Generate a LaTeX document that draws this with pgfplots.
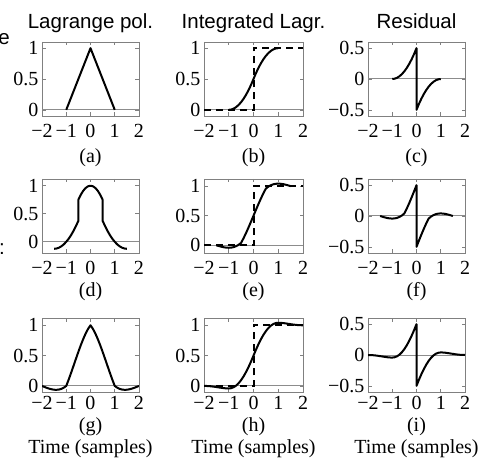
\documentclass[border=0pt]{standalone}
\usepackage{fontspec}
\setmainfont{Liberation Serif}
\newfontfamily\titlefont{Liberation Sans}
\usepackage{pgfplots}
\pgfplotsset{compat=1.18}

\definecolor{boxgray}{gray}{0.50}
\definecolor{zerogray}{gray}{0.55}

\newcommand{\panelfont}{\fontsize{20}{24}\selectfont}

\pgfplotsset{
  panel/.style={
    scale only axis, width=97pt, height=74pt, anchor=south west,
    xmin=-2, xmax=2,
    xtick={-2,-1,0,1,2}, xticklabels={−2,−1,0,1,2},
    axis line style={boxgray, line width=0.8pt},
    tick style={boxgray, line width=0.6pt},
    tick align=inside, major tick length=3.5pt,
    ticklabel style={font=\panelfont, text=black},
  },
  upper/.style={xticklabel style={yshift=-5pt}},
  lower/.style={xticklabel style={yshift=-0.5pt}},
  leftcol/.style={panel, ytick={0,0.5,1}, yticklabels={0,0.5,1}},
  rightcol/.style={panel, ymin=-0.6, ymax=0.6, ytick={-0.5,0,0.5}, yticklabels={−0.5,0,0.5}},
  curve/.style={black, line width=2pt, line join=round},
  zeroline/.style={zerogray, line width=1pt},
  stepline/.style={black, line width=2pt, dash pattern=on 7pt off 5pt},
}

\begin{document}
\begin{tikzpicture}[x=1pt, y=1pt]
\useasboundingbox (0,0) rectangle (484,466);

% ---------------- row 1: linear interpolation ----------------
\begin{axis}[leftcol, upper, at={(42pt,350pt)}, ymin=-0.1, ymax=1.1]
  \addplot[zeroline] coordinates {(-2,0) (2,0)};
  \addplot[curve] coordinates {(-1,0) (0,1) (1,0)};
\end{axis}

\begin{axis}[leftcol, upper, at={(204pt,350pt)}, width=99pt, ymin=-0.1, ymax=1.1]
  \addplot[zeroline] coordinates {(-2,0) (2,0)};
  \addplot[curve] coordinates {
    (-1,0) (-0.9,0.005) (-0.8,0.02) (-0.7,0.045) (-0.6,0.08) (-0.5,0.125)
    (-0.4,0.18) (-0.3,0.245) (-0.2,0.32) (-0.1,0.405) (0,0.5)
    (0.1,0.595) (0.2,0.68) (0.3,0.755) (0.4,0.82) (0.5,0.875)
    (0.6,0.92) (0.7,0.955) (0.8,0.98) (0.9,0.995) (1,1)};
  \addplot[stepline] coordinates {(-2,0) (0,0) (0,1) (2,1)};
\end{axis}

\begin{axis}[rightcol, upper, at={(368pt,350pt)}]
  \addplot[zeroline] coordinates {(-2,0) (2,0)};
  \addplot[curve] coordinates {
    (-1,0) (-0.9,0.005) (-0.8,0.02) (-0.7,0.045) (-0.6,0.08) (-0.5,0.125)
    (-0.4,0.18) (-0.3,0.245) (-0.2,0.32) (-0.1,0.405) (0,0.5)
    (0,-0.5) (0.1,-0.405) (0.2,-0.32) (0.3,-0.245) (0.4,-0.18) (0.5,-0.125)
    (0.6,-0.08) (0.7,-0.045) (0.8,-0.02) (0.9,-0.005) (1,0)};
\end{axis}

% ---------------- row 2: quadratic (3-point) Lagrange ----------------
\begin{axis}[leftcol, upper, at={(42pt,213pt)}, ymin=-0.2, ymax=1.12]
  \addplot[zeroline] coordinates {(-2,0) (2,0)};
  \addplot[curve] coordinates {
    (-1.5,-0.125) (-1.4,-0.12) (-1.3,-0.105) (-1.2,-0.08) (-1.1,-0.045) (-1,0)
    (-0.9,0.055) (-0.8,0.12) (-0.7,0.195) (-0.6,0.28) (-0.5,0.375)
    (-0.5,0.75) (-0.4,0.84) (-0.3,0.91) (-0.2,0.96) (-0.1,0.99) (0,1)
    (0.1,0.99) (0.2,0.96) (0.3,0.91) (0.4,0.84) (0.5,0.75)
    (0.5,0.375) (0.6,0.28) (0.7,0.195) (0.8,0.12) (0.9,0.055) (1,0)
    (1.1,-0.045) (1.2,-0.08) (1.3,-0.105) (1.4,-0.12) (1.5,-0.125)};
\end{axis}

\begin{axis}[leftcol, upper, at={(204pt,213pt)}, width=99pt, ymin=-0.13, ymax=1.12]
  \addplot[zeroline] coordinates {(-2,0) (2,0)};
  \addplot[curve] coordinates {
    (-1.5,0) (-1.4,-0.0123) (-1.3,-0.0237) (-1.2,-0.033) (-1.1,-0.0393) (-1,-0.0417)
    (-0.9,-0.039) (-0.8,-0.0303) (-0.7,-0.0147) (-0.6,0.009) (-0.5,0.0417)
    (-0.4,0.1213) (-0.3,0.209) (-0.2,0.3027) (-0.1,0.4003) (0,0.5)
    (0.1,0.5997) (0.2,0.6973) (0.3,0.791) (0.4,0.8787) (0.5,0.9583)
    (0.6,0.991) (0.7,1.0147) (0.8,1.0303) (0.9,1.039) (1,1.0417)
    (1.1,1.0393) (1.2,1.033) (1.3,1.0237) (1.4,1.0123) (1.5,1)};
  \addplot[stepline] coordinates {(-2,0) (0,0) (0,1) (2,1)};
\end{axis}

\begin{axis}[rightcol, upper, at={(368pt,213pt)}]
  \addplot[zeroline] coordinates {(-2,0) (2,0)};
  \addplot[curve] coordinates {
    (-1.5,0) (-1.4,-0.0123) (-1.3,-0.0237) (-1.2,-0.033) (-1.1,-0.0393) (-1,-0.0417)
    (-0.9,-0.039) (-0.8,-0.0303) (-0.7,-0.0147) (-0.6,0.009) (-0.5,0.0417)
    (-0.4,0.1213) (-0.3,0.209) (-0.2,0.3027) (-0.1,0.4003) (0,0.5)
    (0,-0.5) (0.1,-0.4003) (0.2,-0.3027) (0.3,-0.209) (0.4,-0.1213) (0.5,-0.0417)
    (0.6,-0.009) (0.7,0.0147) (0.8,0.0303) (0.9,0.039) (1,0.0417)
    (1.1,0.0393) (1.2,0.033) (1.3,0.0237) (1.4,0.0123) (1.5,0)};
\end{axis}

% ---------------- row 3: cubic (4-point) Lagrange ----------------
\begin{axis}[leftcol, lower, at={(42pt,74pt)}, ymin=-0.1, ymax=1.12]
  \addplot[zeroline] coordinates {(-2,0) (2,0)};
  \addplot[curve] coordinates {
    (-2,0) (-1.9,-0.0165) (-1.8,-0.032) (-1.7,-0.0455) (-1.6,-0.056) (-1.5,-0.0625)
    (-1.4,-0.064) (-1.3,-0.0595) (-1.2,-0.048) (-1.1,-0.0285) (-1,0)
    (-0.9,0.1045) (-0.8,0.216) (-0.7,0.3315) (-0.6,0.448) (-0.5,0.5625)
    (-0.4,0.672) (-0.3,0.7735) (-0.2,0.864) (-0.1,0.9405) (0,1)
    (0.1,0.9405) (0.2,0.864) (0.3,0.7735) (0.4,0.672) (0.5,0.5625)
    (0.6,0.448) (0.7,0.3315) (0.8,0.216) (0.9,0.1045) (1,0)
    (1.1,-0.0285) (1.2,-0.048) (1.3,-0.0595) (1.4,-0.064) (1.5,-0.0625)
    (1.6,-0.056) (1.7,-0.0455) (1.8,-0.032) (1.9,-0.0165) (2,0)};
\end{axis}

\begin{axis}[leftcol, lower, at={(204pt,74pt)}, width=99pt, ymin=-0.1, ymax=1.12]
  \addplot[zeroline] coordinates {(-2,0) (2,0)};
  \addplot[curve] coordinates {
    (-2,0) (-1.9,-0.0008) (-1.8,-0.0033) (-1.7,-0.0072) (-1.6,-0.0123) (-1.5,-0.0182)
    (-1.4,-0.0246) (-1.3,-0.0308) (-1.2,-0.0363) (-1.1,-0.0402) (-1,-0.0417)
    (-0.9,-0.0365) (-0.8,-0.0205) (-0.7,0.0068) (-0.6,0.0458) (-0.5,0.0964)
    (-0.4,0.1581) (-0.3,0.2305) (-0.2,0.3125) (-0.1,0.4028) (0,0.5)
    (0.1,0.5972) (0.2,0.6875) (0.3,0.7695) (0.4,0.8419) (0.5,0.9036)
    (0.6,0.9542) (0.7,0.9932) (0.8,1.0205) (0.9,1.0365) (1,1.0417)
    (1.1,1.0402) (1.2,1.0363) (1.3,1.0308) (1.4,1.0246) (1.5,1.0182)
    (1.6,1.0123) (1.7,1.0072) (1.8,1.0033) (1.9,1.0008) (2,1)};
  \addplot[stepline] coordinates {(-2,0) (0,0) (0,1) (2,1)};
\end{axis}

\begin{axis}[rightcol, lower, at={(368pt,74pt)}]
  \addplot[zeroline] coordinates {(-2,0) (2,0)};
  \addplot[curve] coordinates {
    (-2,0) (-1.9,-0.0008) (-1.8,-0.0033) (-1.7,-0.0072) (-1.6,-0.0123) (-1.5,-0.0182)
    (-1.4,-0.0246) (-1.3,-0.0308) (-1.2,-0.0363) (-1.1,-0.0402) (-1,-0.0417)
    (-0.9,-0.0365) (-0.8,-0.0205) (-0.7,0.0068) (-0.6,0.0458) (-0.5,0.0964)
    (-0.4,0.1581) (-0.3,0.2305) (-0.2,0.3125) (-0.1,0.4028) (0,0.5)
    (0,-0.5) (0.1,-0.4028) (0.2,-0.3125) (0.3,-0.2305) (0.4,-0.1581) (0.5,-0.0964)
    (0.6,-0.0458) (0.7,-0.0068) (0.8,0.0205) (0.9,0.0365) (1,0.0417)
    (1.1,0.0402) (1.2,0.0363) (1.3,0.0308) (1.4,0.0246) (1.5,0.0182)
    (1.6,0.0123) (1.7,0.0072) (1.8,0.0033) (1.9,0.0008) (2,0)};
\end{axis}

% ---------------- column titles, panel tags, row-label tails ----------------
\begin{scope}[every node/.style={font=\titlefont\fontsize{20.5}{24}\selectfont, anchor=base, inner sep=0pt}]
  \node at (90.5,437) {Lagrange pol.};
  \node at (253.5,437) {Integrated Lagr.};
  \node at (416.5,437) {Residual};
  \node[anchor=base east] at (10,421) {e};
  \node[anchor=base east] at (5,211) {:};
\end{scope}
\begin{scope}[every node/.style={font=\panelfont, anchor=base, inner sep=0pt}]
  \node at (90.5,303) {(a)};
  \node at (253.5,303) {(b)};
  \node at (416.5,303) {(c)};
  \node at (90.5,169) {(d)};
  \node at (253.5,169) {(e)};
  \node at (416.5,169) {(f)};
  \node at (90.5,35) {(g)};
  \node at (253.5,35) {(h)};
  \node at (416.5,35) {(i)};
  \node at (90.5,13) {Time (samples)};
  \node at (253.5,13) {Time (samples)};
  \node at (416.5,13) {Time (samples)};
\end{scope}
\end{tikzpicture}
\end{document}
